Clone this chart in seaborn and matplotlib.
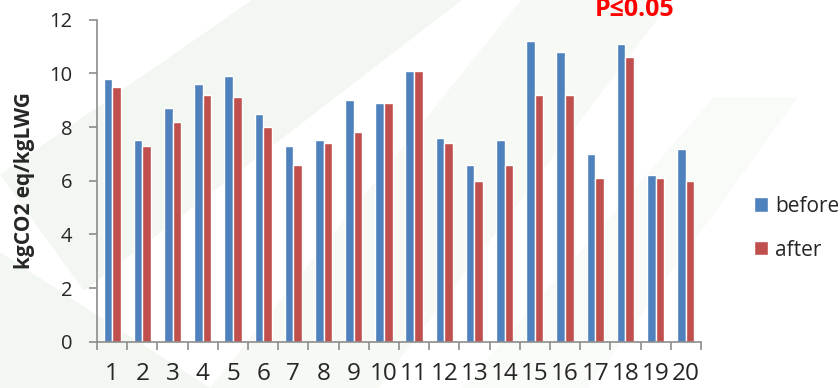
import pandas as pd
import matplotlib
matplotlib.use("Agg")
import matplotlib.pyplot as plt
import seaborn as sns
from matplotlib.patches import Polygon
from matplotlib.ticker import FixedLocator

# ---------- data ----------
farms = [str(i) for i in range(1, 21)]
before = [9.8, 7.5, 8.7, 9.6, 9.9, 8.5, 7.3, 7.5, 9.0, 8.9,
          10.1, 7.6, 6.6, 7.5, 11.2, 10.8, 7.0, 11.1, 6.2, 7.2]
after = [9.5, 7.3, 8.2, 9.2, 9.1, 8.0, 6.6, 7.4, 7.8, 8.9,
         10.1, 7.4, 6.0, 6.6, 9.2, 9.2, 6.1, 10.6, 6.1, 6.0]
series = ["before", "after"]
colors = ["#4F81BD", "#C0504D"]
y_ticks = [0, 2, 4, 6, 8, 10, 12]
# -------------------------------------------------

df = pd.DataFrame({"farm": farms * 2,
                   "value": before + after,
                   "period": ["before"] * len(farms) + ["after"] * len(farms)})

sns.set_style("white")
plt.rcParams["font.family"] = ["Open Sans", "DejaVu Sans"]

fig = plt.figure(figsize=(8.4, 3.88), dpi=100)

# faint green watermark in the background
for pts, a in [([(0.0, 0.55), (0.30, 1.0), (0.55, 1.0), (0.10, 0.25)], 0.10),
               ([(0.25, 0.0), (0.62, 1.0), (0.80, 1.0), (0.45, 0.0)], 0.08),
               ([(0.0, 0.0), (0.0, 0.35), (0.25, 0.0)], 0.10),
               ([(0.55, 0.0), (0.85, 0.75), (0.95, 0.75), (0.70, 0.0)], 0.05)]:
    fig.patches.append(Polygon(pts, closed=True, transform=fig.transFigure,
                               facecolor="#8DB37A", alpha=a, edgecolor="none", zorder=-5))

ax = fig.add_axes([0.1155, 0.1186, 0.719, 0.8311])
ax.patch.set_alpha(0)

sns.barplot(data=df, x="farm", y="value", hue="period", hue_order=series,
            palette=colors, width=0.57, saturation=1, ax=ax, legend=True)

ax.set_ylim(0, 12)
ax.set_xlim(-0.5, len(farms) - 0.5)
ax.set_yticks(y_ticks)
ax.set_xlabel("")
ax.set_ylabel("kgCO2 eq/kgLWG", fontsize=15, fontweight="bold", labelpad=10)

for s in ["top", "right"]:
    ax.spines[s].set_visible(False)
for s in ["left", "bottom"]:
    ax.spines[s].set_color("#8C8C8C")
    ax.spines[s].set_linewidth(1.2)

ax.tick_params(axis="y", left=True, length=6, width=1.2, color="#8C8C8C",
               labelsize=14.5, pad=12)
ax.tick_params(axis="x", which="major", bottom=False, labelsize=17.5, pad=11)
ax.xaxis.set_minor_locator(FixedLocator([i - 0.5 for i in range(len(farms) + 1)]))
ax.tick_params(axis="x", which="minor", bottom=True, length=6, width=1.2,
               color="#8C8C8C", direction="out")

leg = ax.legend(loc="center left", bbox_to_anchor=(0.885, 0.412),
                bbox_transform=fig.transFigure, frameon=False, fontsize=15,
                borderpad=0, handlelength=0.68, handleheight=0.68,
                handletextpad=0.35, labelspacing=1.1)

fig.text(0.755, 1 - 16 / 388, "P≤0.05", color="red", fontsize=18,
         fontweight="bold", ha="center", va="baseline")

fig.savefig("out.png", dpi=100)
